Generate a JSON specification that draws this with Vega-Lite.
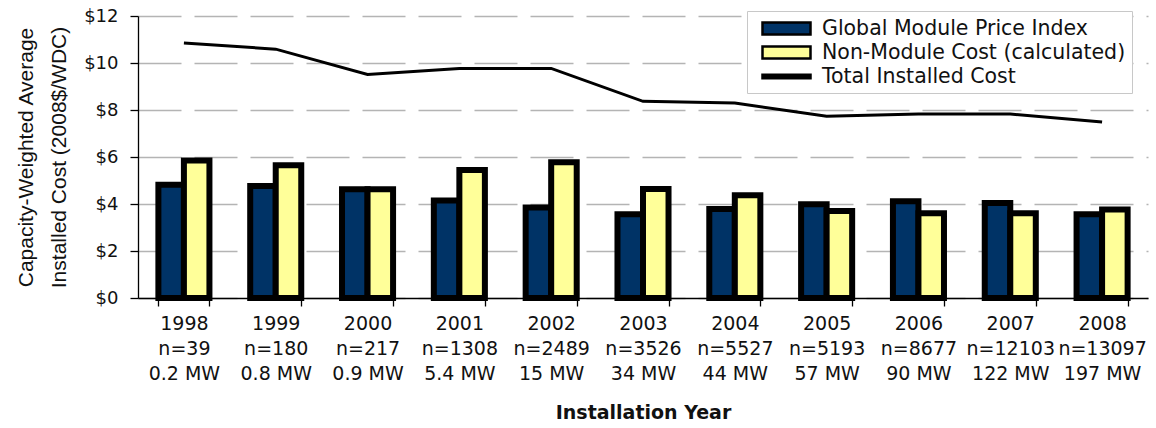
{
  "$schema": "https://vega.github.io/schema/vega-lite/v6.json",
  "width": 1010,
  "height": 282,
  "autosize": {"type": "none"},
  "padding": {"left": 138, "top": 16, "right": 8, "bottom": 130},
  "background": "white",
  "config": {"view": {"stroke": null}},
  "datasets": {
    "bars": [
      {"cat": "1998|n=39|0.2 MW", "series": "Global Module Price Index", "value": 4.82},
      {"cat": "1998|n=39|0.2 MW", "series": "Non-Module Cost (calculated)", "value": 5.85},
      {"cat": "1999|n=180|0.8 MW", "series": "Global Module Price Index", "value": 4.77},
      {"cat": "1999|n=180|0.8 MW", "series": "Non-Module Cost (calculated)", "value": 5.65},
      {"cat": "2000|n=217|0.9 MW", "series": "Global Module Price Index", "value": 4.63},
      {"cat": "2000|n=217|0.9 MW", "series": "Non-Module Cost (calculated)", "value": 4.63},
      {"cat": "2001|n=1308|5.4 MW", "series": "Global Module Price Index", "value": 4.15},
      {"cat": "2001|n=1308|5.4 MW", "series": "Non-Module Cost (calculated)", "value": 5.45},
      {"cat": "2002|n=2489|15 MW", "series": "Global Module Price Index", "value": 3.85},
      {"cat": "2002|n=2489|15 MW", "series": "Non-Module Cost (calculated)", "value": 5.78},
      {"cat": "2003|n=3526|34 MW", "series": "Global Module Price Index", "value": 3.56},
      {"cat": "2003|n=3526|34 MW", "series": "Non-Module Cost (calculated)", "value": 4.64},
      {"cat": "2004|n=5527|44 MW", "series": "Global Module Price Index", "value": 3.79},
      {"cat": "2004|n=5527|44 MW", "series": "Non-Module Cost (calculated)", "value": 4.37},
      {"cat": "2005|n=5193|57 MW", "series": "Global Module Price Index", "value": 3.99},
      {"cat": "2005|n=5193|57 MW", "series": "Non-Module Cost (calculated)", "value": 3.70},
      {"cat": "2006|n=8677|90 MW", "series": "Global Module Price Index", "value": 4.12},
      {"cat": "2006|n=8677|90 MW", "series": "Non-Module Cost (calculated)", "value": 3.61},
      {"cat": "2007|n=12103|122 MW", "series": "Global Module Price Index", "value": 4.04},
      {"cat": "2007|n=12103|122 MW", "series": "Non-Module Cost (calculated)", "value": 3.61},
      {"cat": "2008|n=13097|197 MW", "series": "Global Module Price Index", "value": 3.56},
      {"cat": "2008|n=13097|197 MW", "series": "Non-Module Cost (calculated)", "value": 3.77}
    ],
    "total": [
      {"cat": "1998|n=39|0.2 MW", "total": 10.85},
      {"cat": "1999|n=180|0.8 MW", "total": 10.59},
      {"cat": "2000|n=217|0.9 MW", "total": 9.51},
      {"cat": "2001|n=1308|5.4 MW", "total": 9.77},
      {"cat": "2002|n=2489|15 MW", "total": 9.77},
      {"cat": "2003|n=3526|34 MW", "total": 8.37},
      {"cat": "2004|n=5527|44 MW", "total": 8.30},
      {"cat": "2005|n=5193|57 MW", "total": 7.73},
      {"cat": "2006|n=8677|90 MW", "total": 7.83},
      {"cat": "2007|n=12103|122 MW", "total": 7.83},
      {"cat": "2008|n=13097|197 MW", "total": 7.49}
    ]
  },
  "layer": [
    {
      "data": {"name": "bars"},
      "mark": {"type": "bar", "stroke": "black", "strokeWidth": 6},
      "encoding": {
        "x": {
          "field": "cat", "type": "nominal", "sort": null,
          "scale": {"paddingInner": 0.444, "paddingOuter": 0.222},
          "axis": {
            "title": "Installation Year",
            "titleFont": "DejaVu Sans", "titleFontSize": 19, "titleFontWeight": "bold", "titleColor": "#111",
            "titlePadding": 20,
            "labelExpr": "isValid(datum.value) ? split(datum.value, '|') : ''",
            "labelFont": "DejaVu Sans", "labelFontSize": 19, "labelLineHeight": 25, "labelColor": "#111",
            "labelAngle": 0, "labelPadding": 8,
            "tickBand": "extent", "tickSize": 8, "tickColor": "black", "tickWidth": 1.3,
            "domainColor": "black", "domainWidth": 1.3
          }
        },
        "xOffset": {"field": "series", "type": "nominal", "scale": {"domain": ["Global Module Price Index", "Non-Module Cost (calculated)"]}},
        "y": {
          "field": "value", "type": "quantitative",
          "scale": {"domain": [0, 12]},
          "axis": {
            "values": [0, 2, 4, 6, 8, 10, 12],
            "labelExpr": "'$' + datum.value",
            "labelFont": "DejaVu Sans", "labelFontSize": 18, "labelColor": "#111", "labelPadding": 12,
            "tickSize": 8, "tickColor": "black", "tickWidth": 1.3,
            "domainColor": "black", "domainWidth": 1.3,
            "grid": true, "gridDash": [43, 13], "gridColor": "#b4b4b4", "gridWidth": 1.3,
            "title": ["Capacity-Weighted Average", "Installed Cost (2008$/WDC)"],
            "titleFont": "Liberation Sans", "titleFontSize": 21, "titleFontWeight": "normal", "titleColor": "#111",
            "titleLineHeight": 33, "titlePadding": 14
          }
        },
        "stroke": {"value": "black"},
        "strokeWidth": {"value": 6},
        "color": {
          "field": "series", "type": "nominal",
          "scale": {
            "domain": ["Global Module Price Index", "Non-Module Cost (calculated)", "Total Installed Cost"],
            "range": ["#003366", "#FFFF99", "#000000"]
          },
          "legend": {
            "title": null,
            "orient": "none", "legendX": 609, "legendY": -5,
            "padding": 6,
            "fillColor": "white", "strokeColor": "#c8c8c8",
            "labelFont": "DejaVu Sans", "labelFontSize": 20.5, "labelColor": "#111", "labelLimit": 0,
            "symbolType": "M-0.2,-0.6H4.6V0.6H-0.2Z", "symbolSize": 400,
            "symbolStrokeColor": "black", "symbolStrokeWidth": 2.5,
            "labelOffset": 46, "rowPadding": 1,
            "encode": {
              "symbols": {
                "update": {
                  "shape": {"signal": "datum.value === 'Total Installed Cost' ? 'M-0.2,-0.17H4.6V0.17H-0.2Z' : 'M-0.2,-0.6H4.6V0.6H-0.2Z'"},
                  "stroke": {"value": "black"},
                  "strokeWidth": {"value": 2.5}
                }
              }
            }
          }
        }
      }
    },
    {
      "data": {"name": "total"},
      "mark": {"type": "line", "strokeWidth": 3, "color": "black"},
      "encoding": {
        "x": {"field": "cat", "type": "nominal", "sort": null},
        "y": {"field": "total", "type": "quantitative"}
      }
    }
  ]
}
